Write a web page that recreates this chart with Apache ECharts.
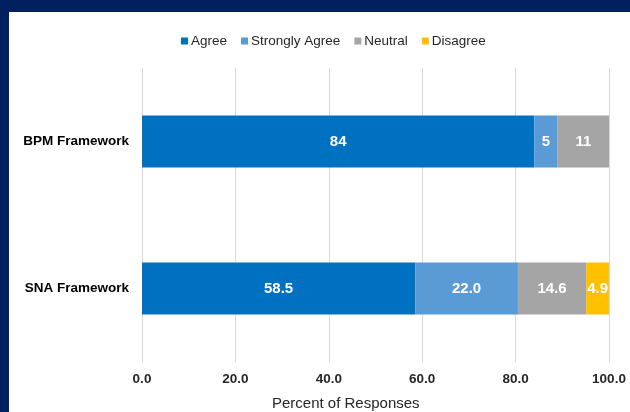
<!DOCTYPE html>
<html>
<head>
<meta charset="utf-8">
<script src="https://cdn.jsdelivr.net/npm/echarts@6/dist/echarts.min.js"></script>
<style>
html,body{margin:0;padding:0;background:#002060;}
#c{width:630px;height:412px;}
</style>
</head>
<body>
<div id="c"></div>
<script>
const categories = ['SNA Framework', 'BPM Framework'];
const seriesNames = ['Agree', 'Strongly Agree', 'Neutral', 'Disagree'];
const agree = [58.5, 84];
const stronglyAgree = [22.0, 5];
const neutral = [14.6, 11];
const disagree = [4.9, 0];
const labelText = {
  'Agree': ['58.5', '84'],
  'Strongly Agree': ['22.0', '5'],
  'Neutral': ['14.6', '11'],
  'Disagree': ['4.9', '']
};
const xTicks = { min: 0, max: 100, interval: 20 };
const axisTitle = 'Percent of Responses';

const colors = ['#0070C0', '#5B9BD5', '#A5A5A5', '#FFC000'];
const values = [agree, stronglyAgree, neutral, disagree];

const chart = echarts.init(document.getElementById('c'), null, {renderer: 'canvas'});
chart.setOption({
  animation: false,
  backgroundColor: '#002060',
  color: colors,
  graphic: [
    {type: 'rect', shape: {x: 9, y: 12, width: 621, height: 400}, style: {fill: '#ffffff'}, z: -10, silent: true},
    {type: 'text', left: 272, top: 396, style: {text: axisTitle, fontFamily: 'Liberation Sans, Arial', fontSize: 15, fill: '#262626'}}
  ],
  legend: {
    top: 29, left: 176,
    itemWidth: 7, itemHeight: 7, itemGap: 14,
    icon: 'rect',
    textStyle: {fontFamily: 'Liberation Sans, Arial', fontSize: 13.5, color: '#262626', padding: [0, 0, 0, -2]},
    data: seriesNames
  },
  grid: {left: 142, right: 21, top: 68, bottom: 50, containLabel: false},
  xAxis: {
    type: 'value', min: xTicks.min, max: xTicks.max, interval: xTicks.interval,
    axisLine: {show: false}, axisTick: {show: false},
    splitLine: {show: true, lineStyle: {color: '#D9D9D9', width: 1}},
    axisLabel: {
      formatter: v => v.toFixed(1), margin: 10,
      fontFamily: 'Liberation Sans, Arial', fontSize: 13.5, fontWeight: 'bold', color: '#262626'
    }
  },
  yAxis: {
    type: 'category', data: categories,
    axisLine: {show: false}, axisTick: {show: false},
    axisLabel: {margin: 13, fontFamily: 'Liberation Sans, Arial', fontSize: 13.5, fontWeight: 'bold', color: '#000000'}
  },
  series: seriesNames.map((name, i) => ({
    name: name, type: 'bar', stack: 'total', barWidth: 52,
    data: values[i],
    itemStyle: {color: colors[i]},
    label: {
      show: true, position: 'inside',
      formatter: p => labelText[name][p.dataIndex],
      fontFamily: 'Liberation Sans, Arial', fontSize: 15, fontWeight: 'bold', color: '#ffffff'
    }
  }))
});
</script>
</body>
</html>
